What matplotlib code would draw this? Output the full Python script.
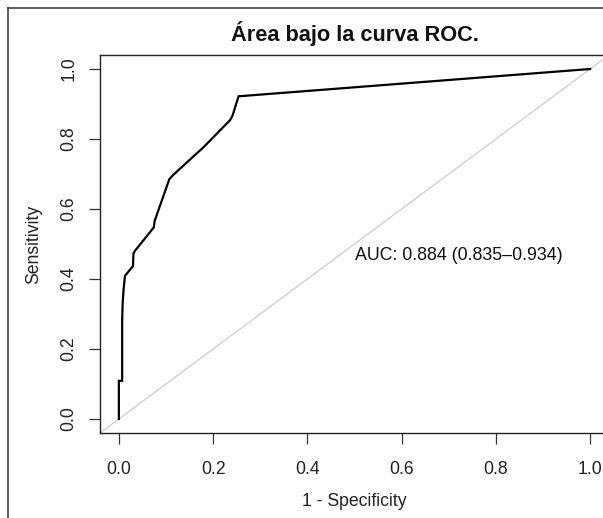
import matplotlib
matplotlib.use('Agg')
import matplotlib.pyplot as plt
from matplotlib.lines import Line2D

plt.rcParams['font.family'] = ['Liberation Sans', 'DejaVu Sans']

# Datos de la curva ROC
fpr = [0.0, 0.0, 0.007, 0.007, 0.008, 0.010, 0.013, 0.030, 0.031, 0.035,
       0.074, 0.076, 0.107, 0.115, 0.180, 0.236, 0.241, 0.254, 1.0]
tpr = [0.0, 0.109, 0.109, 0.28, 0.328, 0.37, 0.409, 0.437, 0.473, 0.482,
       0.547, 0.566, 0.685, 0.697, 0.777, 0.854, 0.866, 0.922, 1.0]
ticks = [0.0, 0.2, 0.4, 0.6, 0.8, 1.0]
tick_labels = ['0.0', '0.2', '0.4', '0.6', '0.8', '1.0']
auc_text = 'AUC: 0.884 (0.835\u20130.934)'
title = 'Área bajo la curva ROC.'

W, H = 603, 518
fig = plt.figure(figsize=(W / 100, H / 100), dpi=100)
ax = fig.add_axes([100 / W, 1 - 433 / H, 509 / W, 378 / H])

# Diagonal de referencia
ax.plot([-0.1, 1.1], [-0.1, 1.1], color='#c8c8c8', lw=0.8)
# Curva ROC
ax.plot(fpr, tpr, color='black', lw=1.6, solid_joinstyle='miter')

ax.text(0.502, 0.466, auc_text, fontsize=12.8, ha='left', va='center', color='#111111')

ax.set_xlim(-0.04, 1.04)
ax.set_ylim(-0.04, 1.04)
ax.set_xticks(ticks)
ax.set_xticklabels(tick_labels)
ax.set_yticks(ticks)
ax.set_yticklabels(tick_labels, rotation=90, va='center')
ax.tick_params(axis='both', direction='out', length=8.2, width=0.9, color='#333333',
               labelsize=12.7, labelcolor='#222222')
ax.tick_params(axis='x', pad=12)
ax.tick_params(axis='y', pad=8)
for s in ax.spines.values():
    s.set_linewidth(1.0)
    s.set_color('#222222')

ax.set_xlabel('1 - Specificity', fontsize=12.7, color='#222222', labelpad=11)
ax.set_ylabel('Sensitivity', fontsize=12.7, color='#222222', labelpad=13.5)

fig.text(354.5 / W, 1 - 41.5 / H, title, fontsize=15.7, fontweight='bold',
         ha='center', va='baseline', color='#111111')

# Marco exterior de la captura
fig.add_artist(Line2D([8 / W, 8 / W], [0, 1 - 8 / H], color='#333333', lw=1.1))
fig.add_artist(Line2D([8 / W, 1], [1 - 8 / H, 1 - 8 / H], color='#333333', lw=1.1))

fig.savefig('out.png', dpi=100)
